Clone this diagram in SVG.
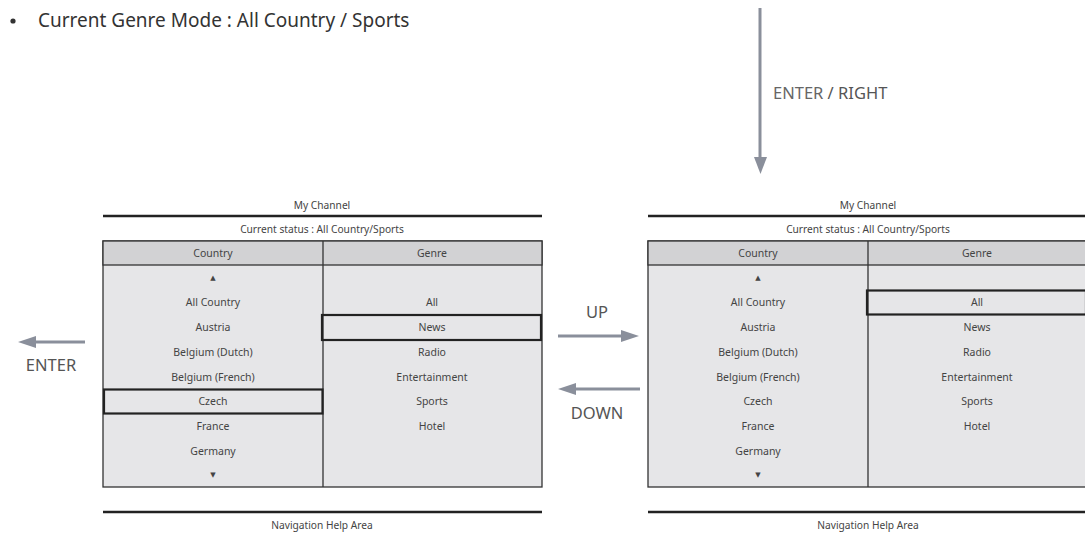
<svg xmlns="http://www.w3.org/2000/svg" width="1085" height="534" viewBox="0 0 1085 534">
<style>
text{font-family:"Noto Sans","Open Sans","DejaVu Sans",sans-serif;fill:#444}
.t{font-size:10.5px;text-anchor:middle}
.h{font-size:10.2px;text-anchor:middle}
.lbl{font-size:16.5px;fill:#555}
.bar{stroke:#222;stroke-width:2.5}
.box{fill:#e6e6e8;stroke:#333;stroke-width:1.3}
.hdr{fill:#d2d2d4;stroke:#333;stroke-width:1.3}
.sel{fill:none;stroke:#222;stroke-width:2.2}
.arr{stroke:#8a8f9b;stroke-width:3;fill:none}
.ah{fill:#8a8f9b}
</style>
<g id="title">
<circle cx="13" cy="21" r="2.6" fill="#333"/>
<text x="38" y="27" style="font-size:19px;fill:#333">Current Genre Mode : All Country / Sports</text>
</g>
<g id="connectors">
<line class="arr" x1="760" y1="8" x2="760" y2="158"/>
<polygon class="ah" points="754,157 767,157 760.5,174"/>
<line class="arr" x1="85" y1="342" x2="34" y2="342"/>
<polygon class="ah" points="36,336 36,348 18,342"/>
<line class="arr" x1="558" y1="336" x2="623" y2="336"/>
<polygon class="ah" points="621,330 621,342 639,336"/>
<line class="arr" x1="640" y1="389" x2="574" y2="389"/>
<polygon class="ah" points="576,383 576,395 558,389"/>
</g>
<g id="labels">
<text x="773" y="99" class="lbl"><tspan fill="#666">ENTER</tspan><tspan fill="#555"> / RIGHT</tspan></text>
<text x="51" y="371" class="lbl" text-anchor="middle">ENTER</text>
<text x="597" y="318" class="lbl" text-anchor="middle" fill="#444">UP</text>
<text x="597" y="419" class="lbl" text-anchor="middle" fill="#444">DOWN</text>
</g>
<g id="panel-left">
<text x="322" y="209" class="h">My Channel</text>
<line class="bar" x1="103" y1="216" x2="542" y2="216"/>
<text x="322" y="233" class="h">Current status : All Country/Sports</text>
<rect class="box" x="103" y="241" width="439" height="246"/>
<rect class="hdr" x="103" y="241" width="439" height="24"/>
<line x1="323" y1="241" x2="323" y2="487" stroke="#333" stroke-width="1.3"/>
<text x="213" y="257" class="t">Country</text>
<text x="432" y="257" class="t">Genre</text>
<text x="213" y="280" class="t" style="font-size:7px">▲</text>
<text x="213" y="306" class="t">All Country</text>
<text x="213" y="331" class="t">Austria</text>
<text x="213" y="356" class="t">Belgium (Dutch)</text>
<text x="213" y="381" class="t">Belgium (French)</text>
<text x="213" y="405" class="t" fill="#222">Czech</text>
<text x="213" y="430" class="t">France</text>
<text x="213" y="455" class="t">Germany</text>
<text x="213" y="477" class="t" style="font-size:7px">▼</text>
<text x="432" y="306" class="t">All</text>
<text x="432" y="331" class="t" fill="#222">News</text>
<text x="432" y="356" class="t">Radio</text>
<text x="432" y="381" class="t">Entertainment</text>
<text x="432" y="405" class="t">Sports</text>
<text x="432" y="430" class="t">Hotel</text>
<rect class="sel" x="322" y="315" width="219" height="25"/>
<rect class="sel" x="104" y="389.5" width="218.5" height="24"/>
<line class="bar" x1="103" y1="512" x2="542" y2="512"/>
<text x="322" y="529" class="h">Navigation Help Area</text>
</g>
<g id="panel-right">
<text x="868" y="209" class="h">My Channel</text>
<line class="bar" x1="648" y1="216" x2="1087" y2="216"/>
<text x="868" y="233" class="h">Current status : All Country/Sports</text>
<rect class="box" x="648" y="241" width="439" height="246"/>
<rect class="hdr" x="648" y="241" width="439" height="24"/>
<line x1="868" y1="241" x2="868" y2="487" stroke="#333" stroke-width="1.3"/>
<text x="758" y="257" class="t">Country</text>
<text x="977" y="257" class="t">Genre</text>
<text x="758" y="280" class="t" style="font-size:7px">▲</text>
<text x="758" y="306" class="t">All Country</text>
<text x="758" y="331" class="t">Austria</text>
<text x="758" y="356" class="t">Belgium (Dutch)</text>
<text x="758" y="381" class="t">Belgium (French)</text>
<text x="758" y="405" class="t">Czech</text>
<text x="758" y="430" class="t">France</text>
<text x="758" y="455" class="t">Germany</text>
<text x="758" y="477" class="t" style="font-size:7px">▼</text>
<text x="977" y="306" class="t" fill="#222">All</text>
<text x="977" y="331" class="t">News</text>
<text x="977" y="356" class="t">Radio</text>
<text x="977" y="381" class="t">Entertainment</text>
<text x="977" y="405" class="t">Sports</text>
<text x="977" y="430" class="t">Hotel</text>
<rect class="sel" x="867" y="290.5" width="219" height="24"/>
<line class="bar" x1="648" y1="512" x2="1087" y2="512"/>
<text x="868" y="529" class="h">Navigation Help Area</text>
</g>
</svg>
